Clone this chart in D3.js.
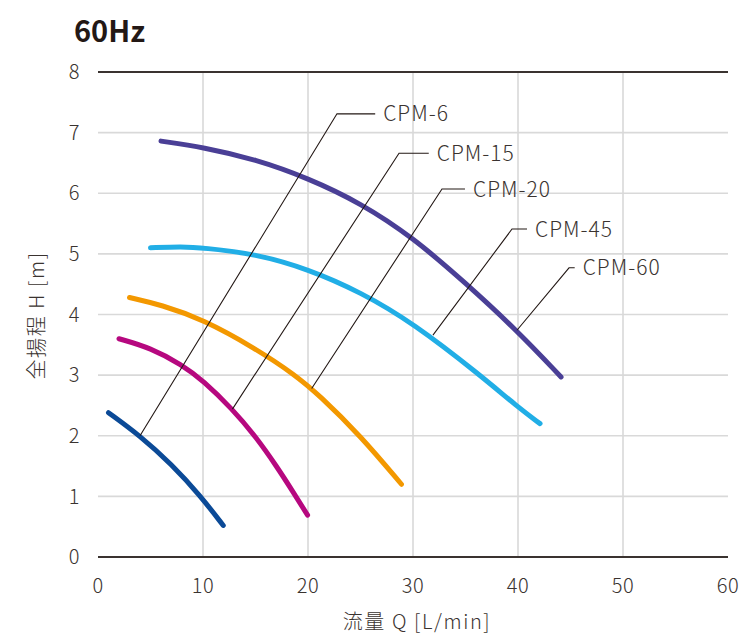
<!DOCTYPE html>
<html lang="ja">
<head>
<meta charset="utf-8">
<style>
  body { margin: 0; background: #fff; }
  svg { font-family: 'Noto Sans CJK JP', 'Noto Sans', sans-serif; }
  .tick-label { font-size: 20px; font-weight: 300; fill: #3a3330; letter-spacing: 0.5px; }
  .axis-title { font-size: 20px; font-weight: 300; fill: #3a3330; letter-spacing: 1.6px; }
  .series-label { font-size: 21px; font-weight: 300; fill: #3a3330; letter-spacing: 1px; }
  .title { font-size: 29px; font-weight: bold; fill: #231815; }
</style>
</head>
<body>
<div id="chart"></div>
<script src="https://cdn.jsdelivr.net/npm/d3@7"></script>
<script>
// data (flow L/min, head m)
var xTicks = [0, 10, 20, 30, 40, 50, 60];
var yTicks = [0, 1, 2, 3, 4, 5, 6, 7, 8];

var cpm6 = [[1, 2.38], [4, 2.0], [7, 1.53], [9.8, 1.0], [11.93, 0.52]];
var cpm15 = [[2, 3.6], [5, 3.45], [8, 3.17], [10, 2.91], [12.8, 2.44], [15, 1.99], [17, 1.5], [18.7, 1.04], [19.96, 0.69]];
var cpm20 = [[3, 4.28], [6, 4.16], [10, 3.92], [15, 3.44], [18.8, 3.0], [21, 2.68], [25, 2.0], [28.9, 1.2]];
var cpm45 = [[5, 5.1], [8, 5.12], [10, 5.1], [15, 5.0], [20, 4.75], [25, 4.37], [30, 3.86], [36.4, 3.0], [40, 2.47], [42.1, 2.2]];
var cpm60 = [[6, 6.86], [10, 6.76], [15, 6.56], [20, 6.25], [25, 5.84], [30, 5.27], [35, 4.52], [40, 3.72], [44.1, 2.97]];

var seriesNames = ["CPM-6", "CPM-15", "CPM-20", "CPM-45", "CPM-60"];
var seriesData = [cpm6, cpm15, cpm20, cpm45, cpm60];
var seriesColors = ["#0b4a97", "#b6087f", "#f39800", "#21aee6", "#4a3f96"];

// leader lines: anchor on curve, elbow, end of the horizontal stroke (data units)
var leaderAnchor = [[4, 2.0], [12.8, 2.44], [20.35, 2.78], [31.9, 3.66], [39.9, 3.74]];
var leaderElbow = [[22.76, 7.31], [28.67, 6.66], [32.76, 6.07], [39.43, 5.41], [44.86, 4.77]];
var leaderEnd = [26.4, 31.5, 34.95, 40.86, 45.4];

var W = 753, H = 639;
var margin = {top: 72, right: 25, bottom: 82, left: 98};
var width = W - margin.left - margin.right;
var height = H - margin.top - margin.bottom;

var svg = d3.select("#chart").append("svg")
    .attr("width", W)
    .attr("height", H);

svg.append("text")
    .attr("class", "title")
    .attr("x", 74)
    .attr("y", 42)
    .text("60Hz");

var g = svg.append("g")
    .attr("transform", "translate(" + margin.left + "," + margin.top + ")");

var x = d3.scaleLinear().domain([0, 60]).range([0, width]);
var y = d3.scaleLinear().domain([0, 8]).range([height, 0]);

// grid
g.selectAll(".hgrid")
  .data(yTicks.filter(function(d) { return d > 0 && d < 8; }))
  .enter().append("line")
    .attr("x1", 0).attr("x2", width)
    .attr("y1", function(d) { return y(d); })
    .attr("y2", function(d) { return y(d); })
    .attr("stroke", "#d9d9d9")
    .attr("stroke-width", 1.6);

g.selectAll(".vgrid")
  .data(xTicks.filter(function(d) { return d > 0 && d < 60; }))
  .enter().append("line")
    .attr("y1", 0).attr("y2", height)
    .attr("x1", function(d) { return x(d); })
    .attr("x2", function(d) { return x(d); })
    .attr("stroke", "#d9d9d9")
    .attr("stroke-width", 1.6);

// top and bottom lines
[0, 8].forEach(function(v) {
  g.append("line")
    .attr("x1", 0).attr("x2", width)
    .attr("y1", y(v)).attr("y2", y(v))
    .attr("stroke", "#3a3330")
    .attr("stroke-width", 2);
});

// tick labels
g.selectAll(".ylab")
  .data(yTicks)
  .enter().append("text")
    .attr("class", "tick-label")
    .attr("x", -18)
    .attr("y", function(d) { return y(d); })
    .attr("dy", "0.36em")
    .attr("text-anchor", "end")
    .text(function(d) { return d; });

g.selectAll(".xlab")
  .data(xTicks)
  .enter().append("text")
    .attr("class", "tick-label")
    .attr("x", function(d) { return x(d); })
    .attr("y", height + 36)
    .attr("text-anchor", "middle")
    .text(function(d) { return d; });

// axis titles
g.append("text")
    .attr("class", "axis-title")
    .attr("x", width / 2 + 4)
    .attr("y", height + 72)
    .attr("text-anchor", "middle")
    .text("流量 Q [L/min]");

g.append("text")
    .attr("class", "axis-title")
    .attr("transform", "translate(-54," + (y(4) + 1) + ") rotate(-90)")
    .attr("text-anchor", "middle")
    .text("全揚程 H [m]");

// curves (basis smooths out small reading errors)
var line = d3.line()
    .x(function(d) { return x(d[0]); })
    .y(function(d) { return y(d[1]); })
    .curve(d3.curveBasis);

g.selectAll(".curve")
  .data(seriesData)
  .enter().append("path")
    .attr("d", line)
    .attr("fill", "none")
    .attr("stroke", function(d, i) { return seriesColors[i]; })
    .attr("stroke-width", 5)
    .attr("stroke-linecap", "round");

// leader lines and labels
seriesNames.forEach(function(name, i) {
  var a = leaderAnchor[i], e = leaderElbow[i];
  g.append("polyline")
    .attr("points", [
      [x(a[0]), y(a[1])],
      [x(e[0]), y(e[1])],
      [x(leaderEnd[i]), y(e[1])]
    ].join(" "))
    .attr("fill", "none")
    .attr("stroke", "#231815")
    .attr("stroke-width", 1.1);
  g.append("text")
    .attr("class", "series-label")
    .attr("x", x(leaderEnd[i]) + 8)
    .attr("y", y(e[1]))
    .attr("dy", "0.36em")
    .text(name);
});
</script>
</body>
</html>
